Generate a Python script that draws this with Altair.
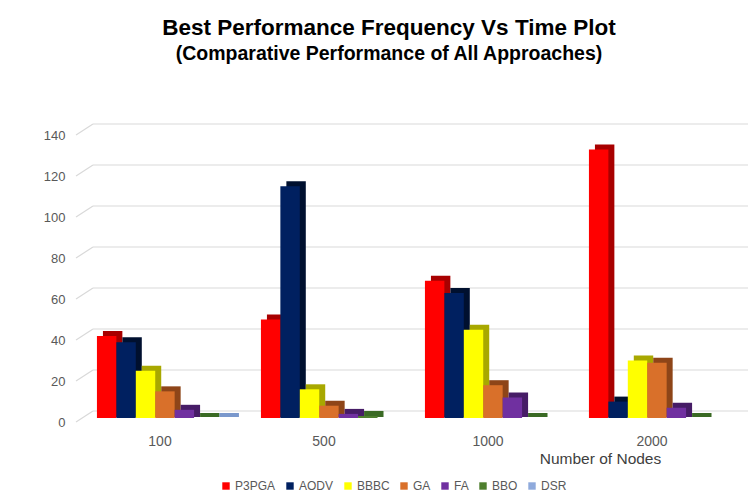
import altair as alt
import pandas as pd

groups = ["100", "500", "1000", "2000"]
series = ["P3PGA", "AODV", "BBBC", "GA", "FA", "BBO", "DSR"]
p3pga = [40, 48, 67, 131]
aodv = [37, 113, 61, 8]
bbbc = [23, 14, 43, 28]
ga = [13, 6, 16, 27]
fa = [4, 2, 10, 5]
bbo = [0, 1, 0, 0]
dsr = [0, None, None, None]
y_ticks = [0, 20, 40, 60, 80, 100, 120, 140]

front_colors = ["#FF0000", "#002060", "#FFFF00", "#D9702A", "#7030A0", "#4E7F2E", "#8FAADC"]
side_colors = ["#A80000", "#00102F", "#A8A800", "#8E4518", "#461C66", "#3A6A24", "#7A98CC"]

vals = [p3pga, aodv, bbbc, ga, fa, bbo, dsr]
rows = []
for s, vs in zip(series, vals):
    for g, v in zip(groups, vs):
        if v is not None:
            rows.append({"group": g, "series": s, "value": v})
df = pd.DataFrame(rows)
tick_df = pd.DataFrame({"v": y_ticks})

FONT = "Liberation Sans"
yscale = alt.Scale(domain=[0, 140], nice=False, zero=True)
xscale = alt.Scale(domain=groups, paddingInner=0.17, paddingOuter=0.085)

y_axis = alt.Axis(title=None, values=y_ticks, grid=False, ticks=False, domain=False,
                  labelFont=FONT, labelFontSize=13, labelColor="#595959",
                  labelPadding=18, labelOffset=4)
x_axis = alt.Axis(title="Number of Nodes", labelAngle=0, ticks=False, domain=False, grid=False,
                  labelFont=FONT, labelFontSize=14, labelColor="#595959",
                  labelPadding=16, labelOffset=-5,
                  titleFont=FONT, titleFontSize=15.5, titleFontWeight="normal", titleColor="#404040",
                  titleX=517, titleY=40, titleAlign="center", titleBaseline="middle")

grid = alt.Chart(tick_df).mark_rule(yOffset=-7, color="#D9D9D9", strokeWidth=1.2).encode(
    y=alt.Y("v:Q", scale=yscale, axis=y_axis),
    x=alt.value(10),
    x2=alt.value(668),
)
diag = alt.Chart(tick_df).mark_rule(yOffset=4, y2Offset=-7, color="#D9D9D9", strokeWidth=1.2).encode(
    y=alt.Y("v:Q", scale=yscale, axis=y_axis),
    y2=alt.Y2("v"),
    x=alt.value(-7),
    x2=alt.value(10),
)

side = alt.Chart(df).mark_bar(yOffset=-5, y2Offset=-1).encode(
    x=alt.X("group:N", scale=xscale, sort=groups, axis=x_axis),
    xOffset=alt.XOffset("series:N", sort=series, scale=alt.Scale(domain=series, range=[6, 142], paddingInner=0, paddingOuter=0)),
    y=alt.Y("value:Q", scale=yscale, axis=y_axis),
    y2=alt.datum(0),
    color=alt.Color("series:N", sort=series, scale=alt.Scale(domain=series, range=side_colors), legend=None),
)

front = alt.Chart(df).mark_bar().encode(
    x=alt.X("group:N", scale=xscale, sort=groups, axis=x_axis),
    xOffset=alt.XOffset("series:N", sort=series, scale=alt.Scale(domain=series, range=[0, 136], paddingInner=0, paddingOuter=0)),
    y=alt.Y("value:Q", scale=yscale, axis=y_axis),
    color=alt.Color("series:N", sort=series, scale=alt.Scale(domain=series, range=front_colors),
                    legend=alt.Legend(title=None, orient="none", direction="horizontal",
                                      legendX=137, legendY=349, symbolType="square", symbolSize=55,
                                      symbolStrokeWidth=0, labelFont=FONT, labelFontSize=12,
                                      labelColor="#595959", labelOffset=3, columnPadding=8)),
)

chart = alt.layer(grid, diag, side, front).resolve_scale(xOffset="independent", color="independent").properties(
    width=656,
    height=287,
    background="white",
    autosize=alt.AutoSizeParams(type="none"),
    padding={"left": 75, "top": 123, "right": 9, "bottom": 78},
    title=alt.TitleParams(
        text="Best Performance Frequency Vs Time Plot",
        subtitle="(Comparative Performance  of All Approaches)",
        font=FONT, fontSize=22.5, fontWeight="bold", color="#000000",
        subtitleFont=FONT, subtitleFontSize=19.5, subtitleFontWeight="bold", subtitleColor="#000000",
        subtitlePadding=5, anchor="middle", frame="group", dx=-22, offset=60,
    ),
).configure_view(stroke=None, strokeWidth=0)

chart.save("out.html", embed_options={"renderer": "svg", "actions": False})
